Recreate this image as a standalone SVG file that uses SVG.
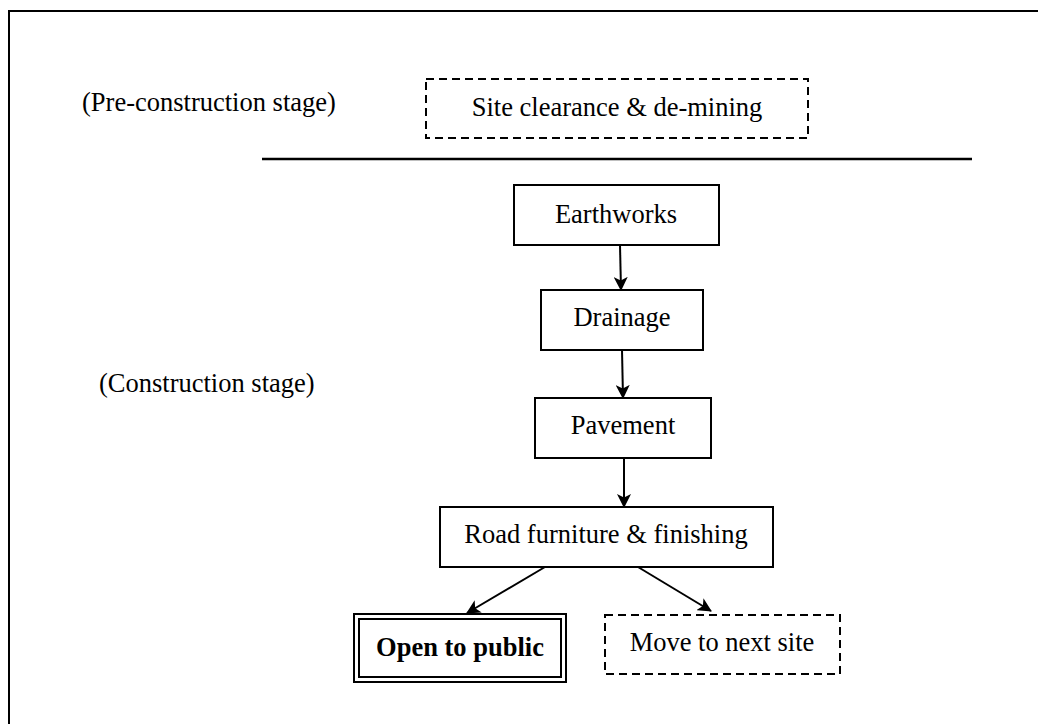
<svg xmlns="http://www.w3.org/2000/svg" width="1038" height="724" viewBox="0 0 1038 724">
  <style>
    text { font-family: "Liberation Serif", "Times New Roman", serif; font-size: 26.5px; fill: #000; }
    .c { text-anchor: middle; }
    .box { fill: #fff; stroke: #000; stroke-width: 2; }
    .dash { fill: #fff; stroke: #000; stroke-width: 2; stroke-dasharray: 8 5; }
    .conn { stroke: #000; stroke-width: 2; fill: none; marker-end: url(#arrow); }
  </style>
  <defs>
    <marker id="arrow" viewBox="0 0 14 14" refX="13" refY="7" markerWidth="14" markerHeight="14" markerUnits="userSpaceOnUse" orient="auto">
      <path d="M0,0 L14,7 L0,14 L3.5,7 Z" fill="#000"/>
    </marker>
  </defs>

  <rect width="1038" height="724" fill="#fff"/>
  <!-- page frame (top and left edges visible) -->
  <path d="M9,740 V11 H1050" fill="none" stroke="#000" stroke-width="2"/>

  <!-- stage labels and divider -->
  <text x="82" y="111">(Pre-construction stage)</text>
  <text x="99" y="392">(Construction stage)</text>
  <line x1="262" y1="159" x2="972" y2="159" stroke="#000" stroke-width="2.5"/>

  <g id="site-clearance">
    <rect class="dash" x="426" y="79" width="382" height="59"/>
    <text class="c" x="617" y="116">Site clearance &amp; de-mining</text>
  </g>
  <g id="earthworks">
    <rect class="box" x="514" y="185" width="205" height="60"/>
    <text class="c" x="616" y="223">Earthworks</text>
  </g>
  <g id="drainage">
    <rect class="box" x="541" y="290" width="162" height="60"/>
    <text class="c" x="622" y="326">Drainage</text>
  </g>
  <g id="pavement">
    <rect class="box" x="535" y="398" width="176" height="60"/>
    <text class="c" x="623" y="434">Pavement</text>
  </g>
  <g id="road-furniture">
    <rect class="box" x="440" y="507" width="333" height="60"/>
    <text class="c" x="606" y="543">Road furniture &amp; finishing</text>
  </g>
  <g id="open-to-public">
    <rect class="box" x="354" y="614" width="212" height="68"/>
    <rect class="box" x="359" y="619" width="202" height="58"/>
    <text class="c" x="460" y="656" font-weight="bold">Open to public</text>
  </g>
  <g id="move-to-next-site">
    <rect class="dash" x="605" y="615" width="235" height="59"/>
    <text class="c" x="722" y="651">Move to next site</text>
  </g>

  <g id="connectors">
    <line class="conn" x1="620" y1="245" x2="621" y2="290"/>
    <line class="conn" x1="622" y1="350" x2="623" y2="398"/>
    <line class="conn" x1="624" y1="458" x2="624" y2="507"/>
    <line class="conn" x1="545" y1="567" x2="467" y2="613"/>
    <line class="conn" x1="638" y1="567" x2="711" y2="611"/>
  </g>
</svg>
